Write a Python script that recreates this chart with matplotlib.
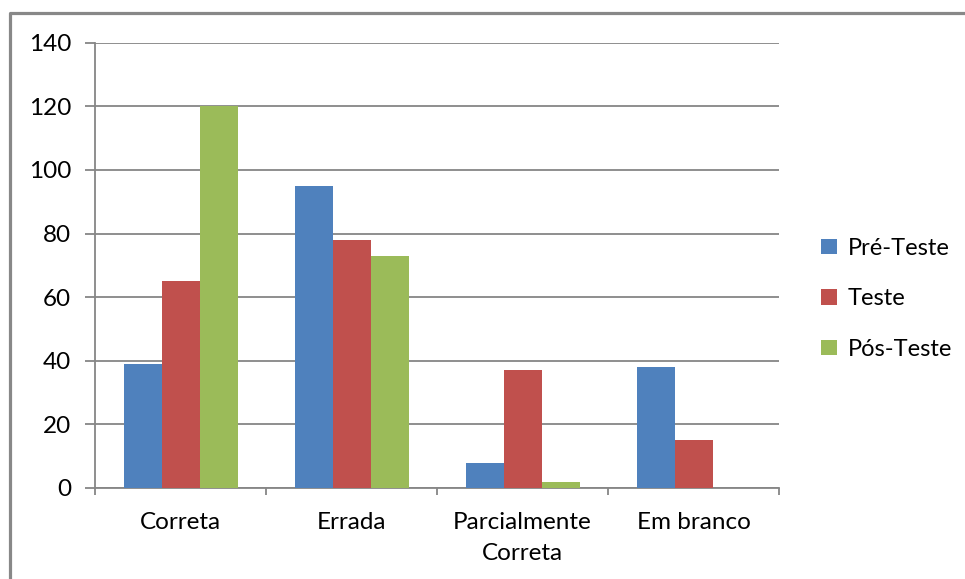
import matplotlib
matplotlib.use("Agg")
import matplotlib.pyplot as plt
import numpy as np
from matplotlib.lines import Line2D

categories = ["Correta", "Errada", "Parcialmente\nCorreta", "Em branco"]
series_names = ["Pré-Teste", "Teste", "Pós-Teste"]
pre_teste = [39, 95, 8, 38]
teste = [65, 78, 37, 15]
pos_teste = [120, 73, 2, 0]
y_ticks = [0, 20, 40, 60, 80, 100, 120, 140]

colors = ["#4F81BD", "#C0504D", "#9BBB59"]
grid_gray = "#868686"

plt.rcParams["font.family"] = ["Lato", "DejaVu Sans"]

W, H = 965, 579
fig = plt.figure(figsize=(W / 100, H / 100), dpi=100)
fig.patch.set_facecolor("white")

ax = fig.add_axes([95 / W, 1 - 488 / H, (779 - 95) / W, (488 - 42.7) / H])

x = np.arange(len(categories))
bw = 1 / 4.5
for i, (vals, name) in enumerate(zip([pre_teste, teste, pos_teste], series_names)):
    ax.bar(x + (i - 1) * bw, vals, width=bw, color=colors[i], label=name,
           zorder=3, linewidth=0)

ax.set_xlim(-0.5, len(categories) - 0.5)
ax.set_ylim(0, 140)
ax.set_yticks(y_ticks)
ax.yaxis.grid(True, color=grid_gray, linewidth=1.3, zorder=0)
ax.set_axisbelow(True)

for s in ["top", "right"]:
    ax.spines[s].set_visible(False)
for s in ["left", "bottom"]:
    ax.spines[s].set_color(grid_gray)
    ax.spines[s].set_linewidth(1.3)

ax.tick_params(axis="y", length=7.2, width=1.3, color=grid_gray, pad=10,
               labelsize=17.5, labelcolor="black")

# category labels at centres, tick marks at category boundaries
ax.set_xticks(x)
ax.set_xticklabels(categories, fontsize=17.5, linespacing=1.6)
ax.tick_params(axis="x", which="major", length=0, pad=17)
ax.set_xticks(np.arange(-0.5, len(categories), 1.0), minor=True)
ax.tick_params(axis="x", which="minor", length=5, width=1.3, color=grid_gray)

leg = ax.legend(loc="center left", bbox_to_anchor=(1.031, 0.425), frameon=False,
                fontsize=17, handlelength=0.65, handleheight=0.65,
                handletextpad=0.45, labelspacing=1.25)

# outer chart border (top and left edges visible)
fig.add_artist(Line2D([10 / W, 10 / W, 1.0], [0.0, 1 - 12.5 / H, 1 - 12.5 / H],
                      transform=fig.transFigure, color="#888888", linewidth=2.3))

fig.savefig("out.png", dpi=100)
